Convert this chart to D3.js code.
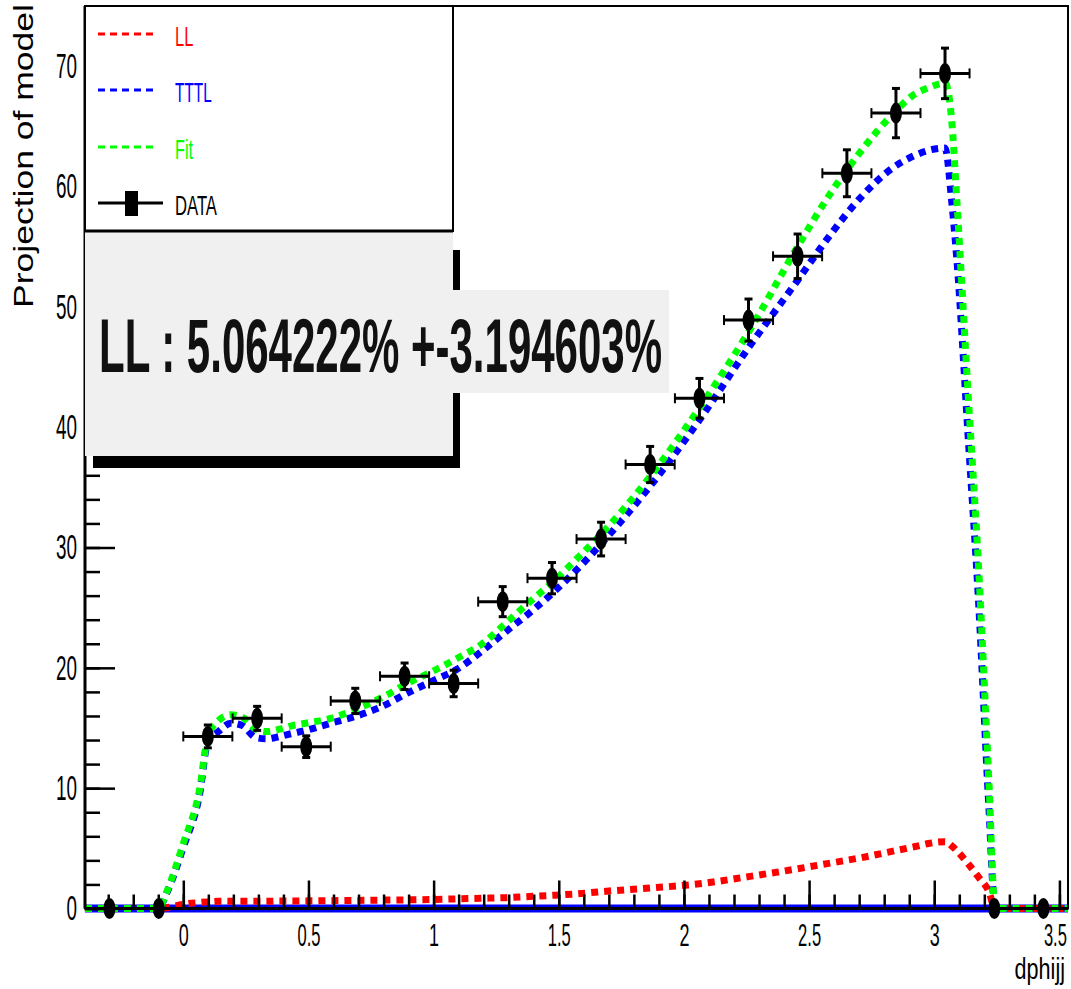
<!DOCTYPE html>
<html>
<head>
<meta charset="utf-8">
<script src="https://cdn.jsdelivr.net/npm/d3@7"></script>
<style>
body { margin: 0; background: #fff; }
svg { display: block; }
text { font-family: "Liberation Sans Narrow", "Liberation Sans", Arial, sans-serif; }
</style>
</head>
<body>
<div id="chart"></div>
<script>
'use strict';

// dphijj bin centres (20 bins of pi/16)
const binCenters = [-0.295, -0.098, 0.098, 0.295, 0.491, 0.687, 0.884, 1.080, 1.276, 1.473,
	1.669, 1.865, 2.062, 2.258, 2.454, 2.651, 2.847, 3.043, 3.240, 3.436];
const binHalfWidth = 0.098;
const dataCounts = [0, 0, 14.3, 15.8, 13.45, 17.25, 19.3, 18.7, 25.5, 27.45,
	30.7, 36.9, 42.4, 48.9, 54.2, 61.1, 66.1, 69.4, 0, 0];
const dataErrors = [0, 0, 0.95, 1.0, 0.9, 1.05, 1.1, 1.1, 1.25, 1.3,
	1.4, 1.5, 1.65, 1.75, 1.85, 1.95, 2.05, 2.1, 0, 0];

// model curves
const curveX = [-0.393, -0.098, -0.07, 0.0, 0.066, 0.098, 0.14, 0.19, 0.236, 0.29,
	0.333, 0.385, 0.436, 0.49, 0.589, 0.693, 0.795, 0.895, 0.995, 1.095,
	1.194, 1.288, 1.385, 1.48, 1.574, 1.669, 1.865, 2.062, 2.258, 2.454,
	2.578, 2.702, 2.831, 2.924, 2.977, 3.043, 3.07, 3.09, 3.136, 3.177,
	3.218, 3.243, 3.534];
const llCurve = [0, 0, 0.05, 0.35, 0.5, 0.55, 0.6, 0.6, 0.6, 0.6,
	0.6, 0.62, 0.62, 0.63, 0.65, 0.67, 0.7, 0.72, 0.75, 0.8,
	0.85, 0.9, 1.0, 1.1, 1.22, 1.4, 1.7, 2.05, 2.65, 3.3,
	3.75, 4.2, 4.75, 5.15, 5.4, 5.55, 5.2, 4.8, 3.7, 2.6,
	1.4, 0, 0];
const tttlCurve = [0, 0, 1.1, 5.1, 9.6, 13.9, 14.7, 15.4, 15.2, 14.2,
	14.1, 14.3, 14.55, 14.8, 15.4, 16.0, 16.8, 17.9, 18.9, 19.9,
	21.4, 23.0, 24.6, 26.3, 28.2, 30.3, 35.1, 40.6, 46.6, 52.2,
	55.8, 59.0, 61.5, 62.6, 63.0, 63.2, 58.7, 54.0, 39.0, 25.5,
	8.5, 0, 0];
const fitCurve = [0, 0, 1.2, 5.4, 10.0, 14.3, 15.6, 16.1, 15.9, 14.9,
	14.7, 14.9, 15.2, 15.4, 15.8, 16.6, 17.55, 18.7, 19.7, 20.8,
	22.0, 23.7, 25.5, 27.2, 29.1, 31.1, 35.9, 41.6, 47.9, 55.0,
	59.2, 62.8, 65.95, 67.7, 68.2, 68.6, 65.4, 58.9, 42.5, 28.4,
	10.7, 0, 0];

const legendLabels = ["LL", "TTTL", "Fit", "DATA"];
const legendColors = ["#ff0000", "#0000ff", "#00ff00", "#000000"];
const xMajorTicks = [0, 0.5, 1, 1.5, 2, 2.5, 3, 3.5];
const yMajorTicks = [0, 10, 20, 30, 40, 50, 60, 70];
const xTitle = "dphijj";
const yTitle = "Projection of model";
const fitResult = "LL : 5.064222% +-3.194603%";

const width = 1071, height = 989;

const x = d3.scaleLinear()
	.domain([-Math.PI / 8, 9 * Math.PI / 8])
	.range([85, 1068]);
const y = d3.scaleLinear()
	.domain([0, 75])
	.range([908.5, 6]);

const svg = d3.select("#chart")
	.append("svg")
		.attr("width", width)
		.attr("height", height);

// narrow text: squeeze glyphs to the measured width
function squeeze(sel, perChar, perDot) {
	sel.attr("textLength", function() {
		const s = this.textContent;
		const dots = (s.match(/\./g) || []).length;
		return (s.length - dots) * perChar + dots * perDot;
	}).attr("lengthAdjust", "spacingAndGlyphs");
}

// solid blue line along zero
svg.append("line")
	.attr("x1", x.range()[0]).attr("x2", x.range()[1])
	.attr("y1", y(0)).attr("y2", y(0))
	.attr("stroke", "#0000ff")
	.attr("stroke-width", 8);

const line = d3.line()
	.x((d, i) => x(curveX[i]))
	.y(d => y(d))
	.curve(d3.curveMonotoneX);

[[llCurve, legendColors[0]], [tttlCurve, legendColors[1]], [fitCurve, legendColors[2]]]
	.forEach(([vals, col]) => {
		svg.append("path")
			.datum(vals)
			.attr("d", line)
			.attr("fill", "none")
			.attr("stroke", col)
			.attr("stroke-width", 7)
			.attr("stroke-dasharray", "7,6");
	});

// x axis
const xAxis = svg.append("g")
	.attr("class", "x-axis")
	.attr("transform", `translate(0,${y(0)})`)
	.call(d3.axisBottom(x).tickValues(xMajorTicks).tickSize(-28).tickPadding(15).tickFormat(d => d));
xAxis.select(".domain").remove();
xAxis.selectAll("line").attr("stroke-width", 2.5);
xAxis.selectAll("text").attr("font-size", 31).attr("fill", "#000");
squeeze(xAxis.selectAll("text"), 10, 3);
xAxis.selectAll(".tick:last-of-type text").attr("text-anchor", "end").attr("x", 7);

svg.append("g")
	.attr("class", "x-minor")
	.attr("transform", `translate(0,${y(0)})`)
	.call(d3.axisBottom(x).tickValues(d3.range(-3, 36).map(d => d / 10)).tickSize(-14).tickFormat(""))
	.call(g => g.select(".domain").remove())
	.selectAll("line").attr("stroke-width", 2.5);

svg.append("text")
	.attr("x", 1065).attr("y", 979)
	.attr("text-anchor", "end")
	.attr("font-size", 30)
	.text(xTitle)
	.call(squeeze, 8.4, 8.4);

// y axis
const yAxis = svg.append("g")
	.attr("class", "y-axis")
	.attr("transform", `translate(${x.range()[0]},0)`)
	.call(d3.axisLeft(y).tickValues(yMajorTicks).tickSize(-30).tickPadding(8).tickFormat(d => d));
yAxis.select(".domain").remove();
yAxis.selectAll("line").attr("stroke-width", 2.5);
yAxis.selectAll("text").attr("font-size", 35).attr("fill", "#000");
squeeze(yAxis.selectAll("text"), 10.5, 4);

svg.append("g")
	.attr("class", "y-minor")
	.attr("transform", `translate(${x.range()[0]},0)`)
	.call(d3.axisLeft(y).tickValues(d3.range(0, 75, 2)).tickSize(-15).tickFormat(""))
	.call(g => g.select(".domain").remove())
	.selectAll("line").attr("stroke-width", 2.5);

svg.append("text")
	.attr("transform", "translate(33,308) rotate(-90)")
	.attr("font-family", "'Liberation Sans', Arial, sans-serif")
	.attr("font-size", 27)
	.attr("textLength", 304)
	.attr("lengthAdjust", "spacingAndGlyphs")
	.text(yTitle);

// frame
svg.append("rect")
	.attr("x", x.range()[0]).attr("y", y.range()[1])
	.attr("width", x.range()[1] - x.range()[0])
	.attr("height", y.range()[0] - y.range()[1])
	.attr("fill", "none")
	.attr("stroke", "#000")
	.attr("stroke-width", 2);
svg.append("line")
	.attr("x1", x.range()[0]).attr("x2", x.range()[1])
	.attr("y1", y(0)).attr("y2", y(0))
	.attr("stroke", "#000").attr("stroke-width", 3);
svg.append("line")
	.attr("x1", x.range()[0]).attr("x2", x.range()[0])
	.attr("y1", y.range()[0]).attr("y2", y.range()[1])
	.attr("stroke", "#000").attr("stroke-width", 3);

// data points
const pts = svg.append("g").attr("class", "data");
binCenters.forEach((c, i) => {
	const v = dataCounts[i], e = dataErrors[i];
	const cx = x(c), cy = y(v);
	if (v > 0) {
		const g = pts.append("g").attr("stroke", "#000").attr("stroke-width", 3);
		g.append("line").attr("x1", x(c - binHalfWidth)).attr("x2", x(c + binHalfWidth)).attr("y1", cy).attr("y2", cy);
		[c - binHalfWidth, c + binHalfWidth].forEach(t => {
			g.append("line").attr("x1", x(t)).attr("x2", x(t)).attr("y1", cy - 5).attr("y2", cy + 5).attr("stroke-width", 2);
		});
		g.append("line").attr("x1", cx).attr("x2", cx).attr("y1", y(v - e)).attr("y2", y(v + e));
		[v - e, v + e].forEach(t => {
			g.append("line").attr("x1", cx - 4).attr("x2", cx + 4).attr("y1", y(t)).attr("y2", y(t)).attr("stroke-width", 3);
		});
	}
	pts.append("ellipse")
		.attr("cx", cx).attr("cy", cy)
		.attr("rx", 6).attr("ry", 10.5)
		.attr("fill", "#000");
});

// legend
const leg = svg.append("g").attr("class", "legend");
leg.append("rect")
	.attr("x", 85).attr("y", 6).attr("width", 368).attr("height", 225)
	.attr("fill", "#fff").attr("stroke", "#000").attr("stroke-width", 2);
const legY = [34, 90, 147, 203];
legendLabels.forEach((lab, i) => {
	if (i < 3) {
		leg.append("line")
			.attr("x1", 98).attr("x2", 157).attr("y1", legY[i]).attr("y2", legY[i])
			.attr("stroke", legendColors[i]).attr("stroke-width", 3)
			.attr("stroke-dasharray", "7,5");
	} else {
		leg.append("line")
			.attr("x1", 98).attr("x2", 163).attr("y1", legY[i]).attr("y2", legY[i])
			.attr("stroke", "#000").attr("stroke-width", 3);
		leg.append("rect")
			.attr("x", 125).attr("y", legY[i] - 12).attr("width", 13).attr("height", 25)
			.attr("fill", "#000");
	}
	leg.append("text")
		.attr("x", 175).attr("y", legY[i] + 12)
		.attr("font-size", 28)
		.attr("fill", legendColors[i])
		.text(lab)
		.call(squeeze, lab === "DATA" ? 10.5 : (lab === "Fit" ? 6 : 9.2), 4);
});

// fit result box with shadow
const box = svg.append("g").attr("class", "fit-box");
box.append("rect")
	.attr("x", 93).attr("y", 250).attr("width", 367).attr("height", 218)
	.attr("fill", "#000");
box.append("rect")
	.attr("x", 85).attr("y", 231).attr("width", 368).attr("height", 225)
	.attr("fill", "#f0f0f0");
box.append("line")
	.attr("x1", 85).attr("x2", 453).attr("y1", 231).attr("y2", 231)
	.attr("stroke", "#000").attr("stroke-width", 3);
box.append("rect")
	.attr("x", 86).attr("y", 290).attr("width", 583).attr("height", 103)
	.attr("fill", "#f0f0f0");
box.append("text")
	.attr("x", 99).attr("y", 372)
	.attr("font-size", 76)
	.attr("font-weight", "bold")
	.attr("fill", "#111")
	.attr("textLength", 563)
	.attr("lengthAdjust", "spacingAndGlyphs")
	.text(fitResult);
</script>
</body>
</html>
